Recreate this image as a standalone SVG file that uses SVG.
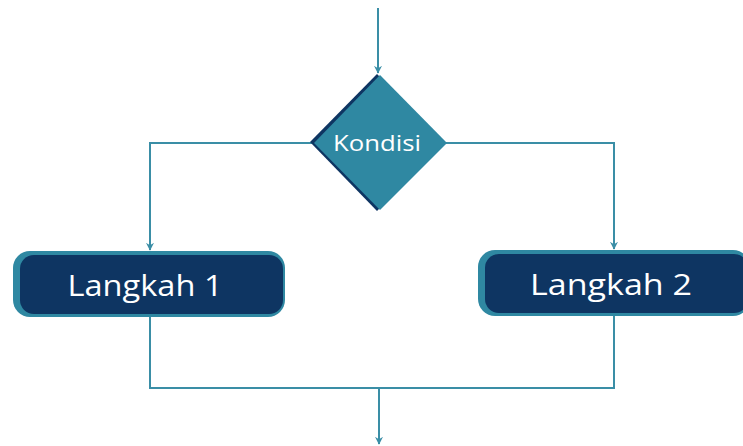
<svg xmlns="http://www.w3.org/2000/svg" width="743" height="446" viewBox="0 0 743 446">
<style>
.ln{fill:none;stroke:#3a8ea6;stroke-width:2}
.lbl{font-family:"Open Sans","Lato",sans-serif;font-weight:500;fill:#ffffff;text-anchor:middle}
.outer{fill:#2f88a2}
.inner{fill:#0e3562}
</style>
<defs>
<marker id="ah" viewBox="0 0 10 10" refX="9" refY="5" markerWidth="8" markerHeight="8" orient="auto" markerUnits="userSpaceOnUse">
<path d="M0,0 L10,5 L0,10 L3,5 Z" fill="#3a8ea6"/>
</marker>
</defs>
<rect width="743" height="446" fill="#ffffff"/>
<g id="connectors">
<path class="ln" d="M378,8 V73" marker-end="url(#ah)"/>
<path class="ln" d="M312,143 H150 V250" marker-end="url(#ah)"/>
<path class="ln" d="M446,143 H614 V249" marker-end="url(#ah)"/>
<path class="ln" d="M150,317 V388 H614 V316"/>
<path class="ln" d="M379,388 V444" marker-end="url(#ah)"/>
</g>
<g id="kondisi">
<polygon points="377,74 310,142 377,211 444,142" fill="#0e3562"/>
<polygon points="380,75 314,143 380,210 447,143" fill="#2f88a2"/>
<text class="lbl" x="377" y="151" font-size="22" textLength="88" lengthAdjust="spacingAndGlyphs">Kondisi</text>
</g>
<g id="langkah1">
<rect class="outer" x="13" y="251" width="272" height="66" rx="17"/>
<rect class="inner" x="20" y="255" width="263" height="59" rx="14"/>
<text class="lbl" x="145" y="296" font-size="30" textLength="155" lengthAdjust="spacingAndGlyphs">Langkah 1</text>
</g>
<g id="langkah2">
<rect class="outer" x="478" y="250" width="272" height="66" rx="17"/>
<rect class="inner" x="485" y="254" width="263" height="59" rx="14"/>
<text class="lbl" x="611" y="295" font-size="30" textLength="162" lengthAdjust="spacingAndGlyphs">Langkah 2</text>
</g>
</svg>
